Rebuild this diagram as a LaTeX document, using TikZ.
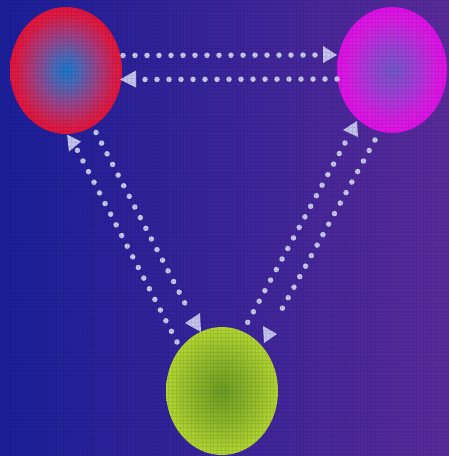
\documentclass[tikz,border=0pt]{standalone}
\usetikzlibrary{shapes.geometric,calc}
\definecolor{bgleft}{HTML}{1B1F9C}
\definecolor{bgright}{HTML}{5A2B9C}
\definecolor{dotcol}{HTML}{C8C8F0}
\definecolor{headcol}{HTML}{C4C4EE}
\pgfdeclareradialshading{redball}{\pgfpoint{0bp}{0bp}}{%
  color(0bp)=(rgb,255:red,24;green,120;blue,204);
  color(6bp)=(rgb,255:red,80;green,104;blue,184);
  color(15bp)=(rgb,255:red,168;green,60;blue,128);
  color(22bp)=(rgb,255:red,220;green,28;blue,72);
  color(25bp)=(rgb,255:red,228;green,20;blue,60);
  color(50bp)=(rgb,255:red,228;green,20;blue,60)}
\pgfdeclareradialshading{magball}{\pgfpoint{0bp}{0bp}}{%
  color(0bp)=(rgb,255:red,112;green,88;blue,200);
  color(10bp)=(rgb,255:red,160;green,64;blue,216);
  color(20bp)=(rgb,255:red,216;green,28;blue,228);
  color(25bp)=(rgb,255:red,224;green,16;blue,232);
  color(50bp)=(rgb,255:red,224;green,16;blue,232)}
\pgfdeclareradialshading{grnball}{\pgfpoint{0bp}{0bp}}{%
  color(0bp)=(rgb,255:red,108;green,156;blue,36);
  color(12bp)=(rgb,255:red,140;green,182;blue,42);
  color(25bp)=(rgb,255:red,178;green,214;blue,50);
  color(50bp)=(rgb,255:red,178;green,214;blue,50)}
\tikzset{
  ball/.style={ellipse, inner sep=0pt, draw=none},
  dotline/.style={draw=dotcol, line width=5.5pt, line cap=round, dash pattern=on 0pt off 12pt},
  headtri/.style={fill=headcol}
}
\begin{document}
\begin{tikzpicture}[x=1pt,y=-1pt]
\useasboundingbox (0,0) rectangle (449,456);
\shade[left color=bgleft, right color=bgright] (0,0) rectangle (449,456);
% balls
\node[ball, shading=redball, minimum width=112pt, minimum height=127pt] (red) at (66,70.5) {};
\node[ball, shading=magball, minimum width=110pt, minimum height=126pt] (mag) at (392,70) {};
\node[ball, shading=grnball, minimum width=112pt, minimum height=128pt] (grn) at (222,391) {};
% top pair
\draw[dotline] ($(red.center)+(57,-15)$) -- ($(mag.center)+(-74,-15)$);
\fill[headtri] ($(mag.center)+(-69,-24)$) -- ($(mag.center)+(-55,-15)$) -- ($(mag.center)+(-69,-7)$) -- cycle;
\draw[dotline] ($(mag.center)+(-55,9)$) -- ($(red.center)+(77,9)$);
\fill[headtri] ($(red.center)+(54,9)$) -- ($(red.center)+(70,0)$) -- ($(red.center)+(70,17)$) -- cycle;
% left pair
\draw[dotline] ($(red.center)+(30,62)$) -- ($(grn.center)+(-32,-78)$);
\fill[headtri] ($(grn.center)+(-37,-68)$) -- ($(grn.center)+(-22,-78)$) -- ($(grn.center)+(-21,-59)$) -- cycle;
\draw[dotline] ($(grn.center)+(-45,-49)$) -- ($(red.center)+(11,79)$);
\fill[headtri] ($(red.center)+(1,64)$) -- ($(red.center)+(15,71)$) -- ($(red.center)+(3,81)$) -- cycle;
% right pair
\draw[dotline] ($(mag.center)+(-17,70)$) -- ($(grn.center)+(55,-73)$);
\fill[headtri] ($(grn.center)+(41,-65)$) -- ($(grn.center)+(55,-57)$) -- ($(grn.center)+(42,-48)$) -- cycle;
\draw[dotline] ($(mag.center)+(-47,73)$) -- ($(grn.center)+(21,-60)$);
\fill[headtri] ($(mag.center)+(-49,60)$) -- ($(mag.center)+(-35,51)$) -- ($(mag.center)+(-34,67)$) -- cycle;
% texture grid
\draw[black, opacity=0.09, line width=0.6pt, xstep=3.75pt, ystep=3.75pt] (0,456) grid (449,0);
\end{tikzpicture}
\end{document}
